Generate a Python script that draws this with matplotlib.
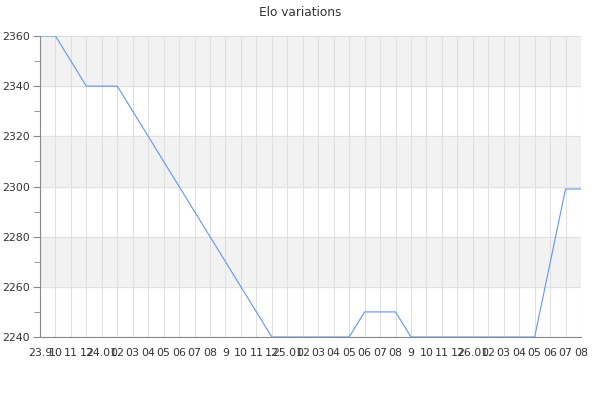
import matplotlib
matplotlib.use("Agg")
import matplotlib.pyplot as plt
from matplotlib.ticker import MultipleLocator

# month index (0 = Sep 2023) and Elo at each corner of the line
mois = [0, 1, 3, 5, 15, 20, 21, 23, 24, 32, 34, 35]
elo = [2360, 2360, 2340, 2340, 2240, 2240, 2250, 2250, 2240, 2240, 2299, 2299]

etiquettes = ["23.9", "10", "11", "12",
              "24.01", "02", "03", "04", "05", "06", "07", "08", "9", "10", "11", "12",
              "25.01", "02", "03", "04", "05", "06", "07", "08", "9", "10", "11", "12",
              "26.01", "02", "03", "04", "05", "06", "07", "08"]

fig = plt.figure(figsize=(6, 4), dpi=100)
ax = fig.add_axes([40 / 600, 1 - 337 / 400, 541 / 600, 301 / 400])

# bandes grises alternées
for y0 in [2260, 2300, 2340]:
    ax.axhspan(y0, y0 + 20, color="#f2f2f2", zorder=0)

ax.plot(mois, elo, color="#6495ed", linewidth=0.8, zorder=3)

ax.set_xlim(0, len(etiquettes) - 1)
ax.set_ylim(2240, 2360)
ax.set_xticks(range(len(etiquettes)))
ax.set_xticklabels(etiquettes)
ax.yaxis.set_major_locator(MultipleLocator(20))
ax.yaxis.set_minor_locator(MultipleLocator(10))

ax.grid(True, which="major", color="#e0e0e0", linewidth=0.8, zorder=1)
ax.set_axisbelow(True)

for s in ["top", "right"]:
    ax.spines[s].set_visible(False)
for s in ["left", "bottom"]:
    ax.spines[s].set_color("#888888")
    ax.spines[s].set_linewidth(0.8)

ax.tick_params(axis="x", length=0, labelsize=7.9, labelcolor="#333333", pad=8)
ax.tick_params(axis="y", which="major", length=5, color="#888888", labelsize=7.9,
               labelcolor="#333333", pad=2)
ax.tick_params(axis="y", which="minor", length=4, color="#888888")

fig.text(0.5, 1 - 12 / 400, "Elo variations", ha="center", va="center", fontsize=8.7, color="#333333")

plt.savefig("out.png", dpi=100)
